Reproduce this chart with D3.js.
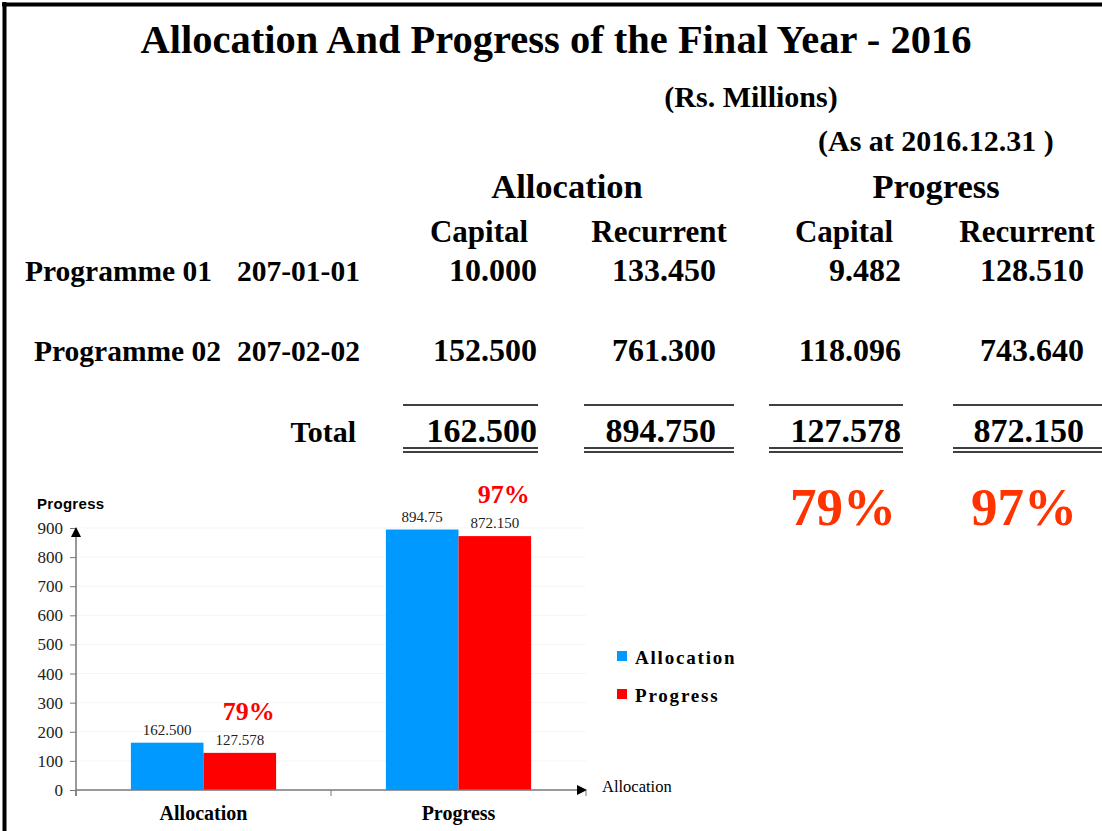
<!DOCTYPE html>
<html><head><meta charset="utf-8">
<script src="https://cdn.jsdelivr.net/npm/d3@7"></script>
<style>
html,body{margin:0;padding:0;background:#fff;}
svg{display:block;}
</style></head>
<body>
<script>
// ---------- data ----------
const title = "Allocation And Progress of the Final Year - 2016";
const unitNote = "(Rs. Millions)";
const dateNote = "(As at 2016.12.31 )";
const groupHeaders = ["Allocation", "Progress"];
const colHeaders = ["Capital", "Recurrent", "Capital", "Recurrent"];
const programmes = ["Programme 01", "Programme 02"];
const codes = ["207-01-01", "207-02-02"];
const row1Values = ["10.000", "133.450", "9.482", "128.510"];
const row2Values = ["152.500", "761.300", "118.096", "743.640"];
const totalValues = ["162.500", "894.750", "127.578", "872.150"];
const bigPercents = ["79%", "97%"];

const categories = ["Allocation", "Progress"];
const seriesNames = ["Allocation", "Progress"];
const allocationValues = [162.5, 894.75];
const progressValues = [127.578, 872.15];
const allocationLabels = ["162.500", "894.75"];
const progressLabels = ["127.578", "872.150"];
const percentLabels = ["79%", "97%"];
const yTicks = [0, 100, 200, 300, 400, 500, 600, 700, 800, 900];

// ---------- setup ----------
const W = 1102, H = 831;
const serif = "'Liberation Serif','Times New Roman',serif";
const sans = "'Liberation Sans',Arial,sans-serif";
const svg = d3.select("body").append("svg").attr("width", W).attr("height", H);

// frame
svg.append("line").attr("x1", 4.5).attr("x2", 4.5).attr("y1", 2).attr("y2", H).attr("stroke", "#000").attr("stroke-width", 4);
svg.append("line").attr("x1", 2).attr("x2", W).attr("y1", 4.5).attr("y2", 4.5).attr("stroke", "#000").attr("stroke-width", 4);

// ---------- header text ----------
svg.append("text").attr("x", 556).attr("y", 53).attr("text-anchor", "middle")
  .attr("font-family", serif).attr("font-weight", "bold").attr("font-size", 40.5).text(title);
svg.append("text").attr("x", 751).attr("y", 107).attr("text-anchor", "middle")
  .attr("font-family", serif).attr("font-weight", "bold").attr("font-size", 30).text(unitNote);
svg.append("text").attr("x", 818).attr("y", 151).attr("text-anchor", "start")
  .attr("font-family", serif).attr("font-weight", "bold").attr("font-size", 30).text(dateNote);

// table columns
const colCenters = [479, 659, 844, 1027];
const colRight = [537, 716, 901, 1084];
const groupCenters = [567, 936];

svg.selectAll("text.grp").data(groupHeaders).join("text").attr("class", "grp")
  .attr("x", (d, i) => groupCenters[i]).attr("y", 198).attr("text-anchor", "middle")
  .attr("font-family", serif).attr("font-weight", "bold").attr("font-size", 34.5).text(d => d);
svg.selectAll("text.colh").data(colHeaders).join("text").attr("class", "colh")
  .attr("x", (d, i) => colCenters[i]).attr("y", 242).attr("text-anchor", "middle")
  .attr("font-family", serif).attr("font-weight", "bold").attr("font-size", 31).text(d => d);

const rowY = [281, 361];
const progX = [25, 34];
svg.selectAll("text.prog").data(programmes).join("text").attr("class", "prog")
  .attr("x", (d, i) => progX[i]).attr("y", (d, i) => rowY[i])
  .attr("font-family", serif).attr("font-weight", "bold").attr("font-size", 29.5).text(d => d);
svg.selectAll("text.code").data(codes).join("text").attr("class", "code")
  .attr("x", 237).attr("y", (d, i) => rowY[i])
  .attr("font-family", serif).attr("font-weight", "bold").attr("font-size", 29.5).text(d => d);
[row1Values, row2Values].forEach((vals, r) => {
  svg.selectAll("text.val" + r).data(vals).join("text").attr("class", "val" + r)
    .attr("x", (d, i) => colRight[i]).attr("y", rowY[r]).attr("text-anchor", "end")
    .attr("font-family", serif).attr("font-weight", "bold").attr("font-size", 32).text(d => d);
});

// total row
svg.append("text").attr("x", 356).attr("y", 442).attr("text-anchor", "end")
  .attr("font-family", serif).attr("font-weight", "bold").attr("font-size", 30).text("Total");
svg.selectAll("text.tot").data(totalValues).join("text").attr("class", "tot")
  .attr("x", (d, i) => colRight[i]).attr("y", 442).attr("text-anchor", "end")
  .attr("font-family", serif).attr("font-weight", "bold").attr("font-size", 34).text(d => d);
const lineSpans = [[403, 538], [584, 734], [769, 903], [953, 1102]];
lineSpans.forEach(s => {
  svg.append("line").attr("x1", s[0]).attr("x2", s[1]).attr("y1", 405).attr("y2", 405).attr("stroke", "#000").attr("stroke-width", 1.5);
  svg.append("line").attr("x1", s[0]).attr("x2", s[1]).attr("y1", 448).attr("y2", 448).attr("stroke", "#000").attr("stroke-width", 1.5);
  svg.append("line").attr("x1", s[0]).attr("x2", s[1]).attr("y1", 452).attr("y2", 452).attr("stroke", "#000").attr("stroke-width", 1.5);
});

// big percents
const bigCenters = [843, 1024];
svg.selectAll("text.big").data(bigPercents).join("text").attr("class", "big")
  .attr("x", (d, i) => bigCenters[i]).attr("y", 525).attr("text-anchor", "middle")
  .attr("font-family", serif).attr("font-weight", "bold").attr("font-size", 53).attr("fill", "#FF3300").text(d => d);

// ---------- bar chart ----------
const x0 = 76, x1 = 586, yBase = 790, yTop = 528;
const x = d3.scaleBand().domain(categories).range([x0, x1]).paddingInner(0).paddingOuter(0);
const y = d3.scaleLinear().domain([0, 900]).range([yBase, yTop]);
const barW = 72.6;
const colors = ["#0099FF", "#FF0000"];

const g = svg.append("g");

// faint gridlines
g.selectAll("line.grid").data(yTicks.slice(1)).join("line").attr("class", "grid")
  .attr("x1", x0).attr("x2", x1).attr("y1", d => y(d)).attr("y2", d => y(d))
  .attr("stroke", "#f5f5f5").attr("stroke-width", 1);

// arrow markers
const defs = svg.append("defs");
defs.append("marker").attr("id", "arr").attr("viewBox", "0 0 10 10").attr("refX", 9).attr("refY", 5)
  .attr("markerWidth", 10).attr("markerHeight", 10).attr("markerUnits", "userSpaceOnUse").attr("orient", "auto")
  .append("path").attr("d", "M0,0 L10,5 L0,10 Z").attr("fill", "#000");

// y axis ticks & labels
const yAxis = d3.axisLeft(y).tickValues(yTicks).tickSize(6).tickFormat(d3.format("d"));
const ya = g.append("g").attr("transform", `translate(${x0},0)`).call(yAxis);
ya.select(".domain").remove();
ya.selectAll(".tick line").attr("stroke", "#777");
ya.selectAll(".tick text").attr("font-family", serif).attr("font-size", 17).attr("fill", "#222").attr("x", -13);

// bars
const seriesVals = [allocationValues, progressValues];
const seriesLabs = [allocationLabels, progressLabels];
seriesVals.forEach((vals, s) => {
  g.selectAll("rect.s" + s).data(categories).join("rect").attr("class", "s" + s)
    .attr("x", d => x(d) + x.bandwidth() / 2 - barW + s * barW)
    .attr("width", barW)
    .attr("y", (d, i) => y(vals[i]))
    .attr("height", (d, i) => yBase - y(vals[i]))
    .attr("fill", colors[s]);
  g.selectAll("text.lab" + s).data(categories).join("text").attr("class", "lab" + s)
    .attr("x", d => x(d) + x.bandwidth() / 2 - barW / 2 + s * barW)
    .attr("y", (d, i) => y(vals[i]) - 8)
    .attr("text-anchor", "middle").attr("font-family", serif).attr("font-size", 15).attr("fill", "#222")
    .text((d, i) => seriesLabs[s][i]);
});
// percent labels above progress bars
g.selectAll("text.pct").data(categories).join("text").attr("class", "pct")
  .attr("x", d => x(d) + x.bandwidth() / 2 + barW / 2 + 9)
  .attr("y", (d, i) => y(progressValues[i]) - 33)
  .attr("text-anchor", "middle").attr("font-family", serif).attr("font-weight", "bold")
  .attr("font-size", 26).attr("fill", "#FF0000").text((d, i) => percentLabels[i]);

// y axis line with arrow
g.append("line").attr("x1", x0).attr("x2", x0).attr("y1", yBase + 6).attr("y2", yTop)
  .attr("stroke", "#777").attr("stroke-width", 1.5).attr("marker-end", "url(#arr)");
// x axis line with arrow
g.append("line").attr("x1", x0).attr("x2", x1).attr("y1", yBase).attr("y2", yBase)
  .attr("stroke", "#777").attr("stroke-width", 1.5).attr("marker-end", "url(#arr)");
// x boundary ticks
const bounds = categories.map(c => x(c)).concat([x1]);
g.selectAll("line.xt").data(bounds).join("line").attr("class", "xt")
  .attr("x1", d => d).attr("x2", d => d).attr("y1", yBase).attr("y2", yBase + 6)
  .attr("stroke", "#777").attr("stroke-width", 1);

// category labels
const xAxis = d3.axisBottom(x).tickSize(0).tickPadding(0);
const xa = g.append("g").attr("transform", `translate(0,${yBase})`).call(xAxis);
xa.select(".domain").remove();
xa.selectAll(".tick text").attr("font-family", serif).attr("font-weight", "bold").attr("font-size", 20)
  .attr("fill", "#000").attr("dy", 0).attr("y", 30);

// axis titles
svg.append("text").attr("x", 37).attr("y", 509).attr("font-family", sans).attr("font-weight", "bold")
  .attr("font-size", 15).attr("letter-spacing", 0.3).attr("fill", "#000").text("Progress");
svg.append("text").attr("x", 602).attr("y", 792).attr("font-family", serif)
  .attr("font-size", 16.5).attr("fill", "#000").text("Allocation");

// legend
const leg = svg.append("g").selectAll("g").data(seriesNames).join("g")
  .attr("transform", (d, i) => `translate(617,${651 + i * 38})`);
leg.append("rect").attr("width", 10).attr("height", 10).attr("fill", (d, i) => colors[i]);
leg.append("text").attr("x", 18).attr("y", 13).attr("font-family", serif).attr("font-weight", "bold")
  .attr("font-size", 19).attr("letter-spacing", 1.8).text(d => d);
</script>
</body></html>
